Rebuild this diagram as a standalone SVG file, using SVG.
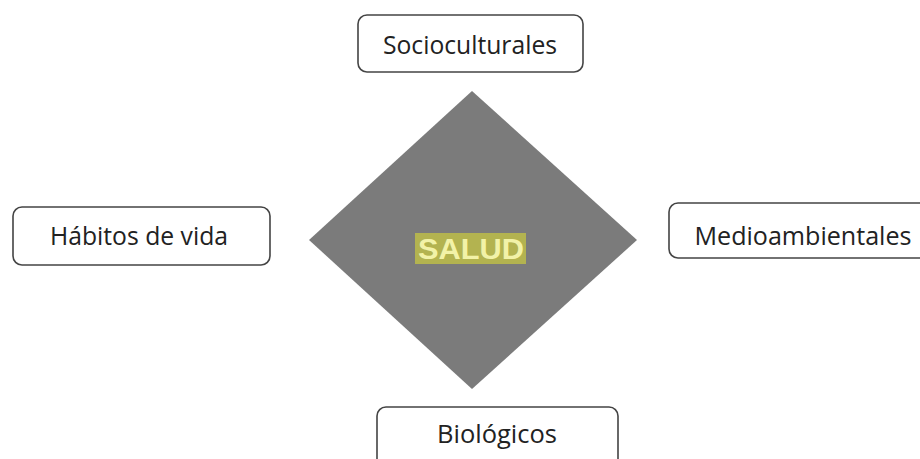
<svg xmlns="http://www.w3.org/2000/svg" width="920" height="459" viewBox="0 0 920 459">
<style>
.box{fill:#ffffff;stroke:#444444;stroke-width:1.6}
.lbl{font-family:"Open Sans","Liberation Sans",sans-serif;font-size:25px;font-weight:500;fill:#222222;text-anchor:middle}
.center{font-family:"Liberation Sans","DejaVu Sans",sans-serif;font-size:29px;font-weight:bold;fill:#f2f2a8;text-anchor:middle}
</style>
<rect width="920" height="459" fill="#ffffff"/>
<g id="salud">
<polygon points="472,91 637,240 472,389 309,240" fill="#7b7b7b"/>
<rect x="415" y="233" width="111" height="31" fill="#b3b350"/>
<text class="center" x="471" y="259" textLength="106" lengthAdjust="spacingAndGlyphs">SALUD</text>
</g>
<g id="socioculturales">
<rect class="box" x="358" y="15" width="225" height="57" rx="9"/>
<text class="lbl" x="470" y="54" textLength="174" lengthAdjust="spacingAndGlyphs">Socioculturales</text>
</g>
<g id="habitos">
<rect class="box" x="13" y="207" width="257" height="58" rx="9"/>
<text class="lbl" x="139" y="245" textLength="178" lengthAdjust="spacingAndGlyphs">Hábitos de vida</text>
</g>
<g id="medioambientales">
<rect class="box" x="669" y="203" width="262" height="55" rx="9"/>
<text class="lbl" x="803" y="245" textLength="217" lengthAdjust="spacingAndGlyphs">Medioambientales</text>
</g>
<g id="biologicos">
<rect class="box" x="377" y="407" width="241" height="70" rx="9"/>
<text class="lbl" x="497" y="443" textLength="120" lengthAdjust="spacingAndGlyphs">Biológicos</text>
</g>
<g id="connectors"></g>
</svg>
